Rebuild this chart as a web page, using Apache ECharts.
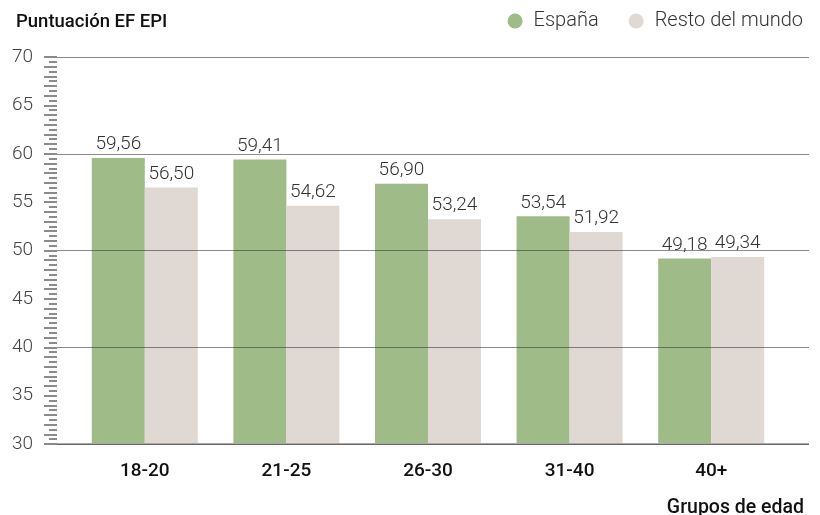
<!DOCTYPE html>
<html><head><meta charset="utf-8">
<script src="https://cdn.jsdelivr.net/npm/echarts@6/dist/echarts.min.js"></script>
<style>html,body{margin:0;padding:0;background:#fff}#c{width:820px;height:515px}</style>
</head><body><div id="c"></div>
<script>
const categories = ['18-20', '21-25', '26-30', '31-40', '40+'];
const espana = [59.56, 59.41, 56.90, 53.54, 49.18];
const restoMundo = [56.50, 54.62, 53.24, 51.92, 49.34];
const yTicks = [30, 35, 40, 45, 50, 55, 60, 65, 70];

const fmt = v => v.toFixed(2).replace('.', ',');
const chart = echarts.init(document.getElementById('c'));
const boldFont = 'Roboto';
const valLabel = {
  show: true, position: 'top', distance: 4,
  fontFamily: 'Roboto', fontWeight: 300, fontSize: 19, color: '#333',
  formatter: p => fmt(p.value)
};
chart.setOption({
  animation: false,
  title: [{
    text: 'Puntuación EF EPI', left: 11, top: 8,
    textStyle: { fontFamily: boldFont, fontWeight: 500, fontSize: 18.5, color: '#111' }
  }, {
    text: 'Grupos de edad', right: 11, top: 493,
    textStyle: { fontFamily: boldFont, fontWeight: 500, fontSize: 19.5, color: '#111' }
  }],
  legend: {
    right: 12, top: 6, icon: 'circle', itemWidth: 15, itemHeight: 15, itemGap: 30,
    textStyle: { fontFamily: 'Roboto', fontWeight: 300, fontSize: 20, color: '#333', padding: [0, 0, 0, 6] },
    data: ['España', 'Resto del mundo']
  },
  grid: [
    { left: 57, right: 11, top: 57, bottom: 71 },
    { left: 74, right: 38, top: 57, bottom: 71 }
  ],
  xAxis: [
    { type: 'value', gridIndex: 0, show: false, min: 0, max: 1 },
    {
      type: 'category', gridIndex: 1, data: categories,
      axisLine: { show: false }, axisTick: { show: false },
      axisLabel: { margin: 18, fontFamily: boldFont, fontWeight: 500, fontSize: 19, color: '#111' }
    }
  ],
  yAxis: [
    {
      type: 'value', gridIndex: 0, min: yTicks[0], max: yTicks[yTicks.length - 1], interval: 1,
      axisLine: { show: false },
      axisTick: { show: true, length: 13, lineStyle: { color: '#666', width: 1.5 } },
      minorTick: { show: true, splitNumber: 2, length: 8, lineStyle: { color: '#666', width: 1.5 } },
      splitLine: { show: false },
      axisLabel: {
        margin: 24, fontFamily: 'Roboto', fontWeight: 300, fontSize: 19, color: '#444',
        formatter: v => (yTicks.indexOf(v) >= 0 ? String(v) : '')
      }
    },
    {
      type: 'value', gridIndex: 0, min: 30, max: 70, interval: 10, z: 10,
      axisLine: { show: false }, axisTick: { show: false }, axisLabel: { show: false },
      splitLine: { show: true, lineStyle: { color: 'rgba(60,60,60,0.6)', width: 1 } }
    },
    {
      type: 'value', gridIndex: 1, min: 30, max: 70, show: false, splitLine: { show: false }
    }
  ],
  series: [
    {
      name: 'España', type: 'bar', xAxisIndex: 1, yAxisIndex: 2, data: espana,
      barWidth: 53, barGap: '0%', itemStyle: { color: '#9fbb87' }, label: valLabel
    },
    {
      name: 'Resto del mundo', type: 'bar', xAxisIndex: 1, yAxisIndex: 2, data: restoMundo,
      barWidth: 53, barGap: '0%', itemStyle: { color: '#e0d8d2' }, label: valLabel
    },
    {
      type: 'line', xAxisIndex: 0, yAxisIndex: 0, data: [], silent: true,
      markLine: {
        silent: true, symbol: 'none', label: { show: false },
        lineStyle: { color: '#aaa', type: 'solid', width: 2 },
        data: [{ yAxis: 30 }]
      }
    }
  ]
});
</script></body></html>
